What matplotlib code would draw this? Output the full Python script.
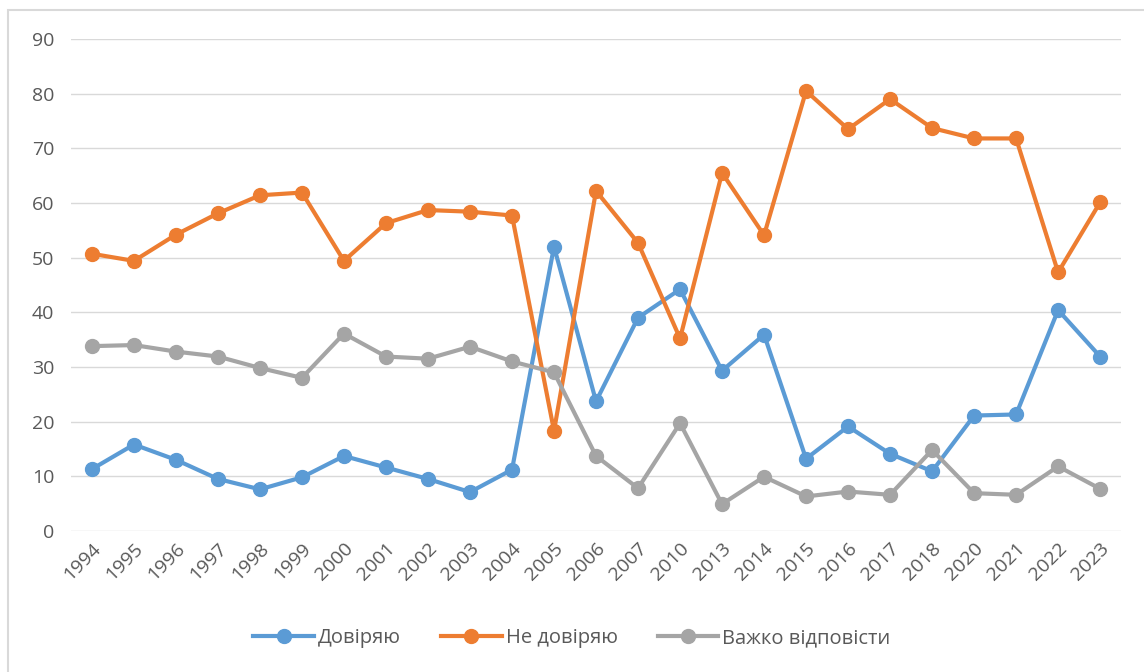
import matplotlib.pyplot as plt
from matplotlib.patches import Rectangle

years = ['1994', '1995', '1996', '1997', '1998', '1999', '2000', '2001', '2002',
         '2003', '2004', '2005', '2006', '2007', '2010', '2013', '2014', '2015',
         '2016', '2017', '2018', '2020', '2021', '2022', '2023']

trust = [11.3, 15.8, 13.0, 9.5, 7.6, 9.8, 13.7, 11.6, 9.5, 7.1, 11.2, 52.0,
         23.7, 39.0, 44.2, 29.3, 35.9, 13.2, 19.1, 14.1, 10.9, 21.1, 21.3, 40.4, 31.9]
distrust = [50.7, 49.4, 54.2, 58.1, 61.4, 61.9, 49.4, 56.3, 58.7, 58.4, 57.7, 18.3,
            62.2, 52.7, 35.2, 65.5, 54.1, 80.5, 73.5, 79.0, 73.7, 71.8, 71.8, 47.3, 60.1]
hard = [33.8, 34.0, 32.8, 31.9, 29.8, 28.0, 36.1, 31.9, 31.5, 33.7, 31.0, 29.0,
        13.7, 7.8, 19.7, 4.9, 9.9, 6.3, 7.2, 6.6, 14.8, 6.9, 6.6, 11.8, 7.7]

labels = ['Довіряю', 'Не довіряю', 'Важко відповісти']
colors = ['#5B9BD5', '#ED7D31', '#A5A5A5']

plt.rcParams['font.family'] = ['Open Sans', 'DejaVu Sans']

fig = plt.figure(figsize=(11.44, 6.72), dpi=100)
ax = fig.add_axes([0.062, 0.210, 0.918, 0.732])

x = range(len(years))
for vals, lab, col in zip([trust, distrust, hard], labels, colors):
    ax.plot(x, vals, color=col, lw=3, marker='o', markersize=10,
            label=lab, solid_joinstyle='round')

ax.set_xlim(-0.5, len(years) - 0.5)
ax.set_ylim(0, 90)
ax.set_yticks(range(0, 91, 10))
ax.set_xticks(list(x))
ax.set_xticklabels(years, rotation=45, ha='right', rotation_mode='anchor')
ax.tick_params(axis='both', length=0, labelsize=14, labelcolor='#595959')
ax.tick_params(axis='y', pad=12)
ax.tick_params(axis='x', pad=6)
ax.grid(axis='y', color='#d9d9d9', lw=1)
ax.set_axisbelow(True)
for s in ax.spines.values():
    s.set_visible(False)

fig.legend(loc='center', bbox_to_anchor=(0.5, 0.05), ncol=3, frameon=False,
           fontsize=14.5, labelcolor='#595959', handlelength=3,
           columnspacing=2.0, handletextpad=0.2)

# chart area border
fig.patches.append(Rectangle((8 / 1144, -0.05), 1.1, 1.05 - 10 / 672,
                             transform=fig.transFigure, fill=False,
                             edgecolor='#d9d9d9', lw=1.5))

fig.savefig('out.png', dpi=100)
